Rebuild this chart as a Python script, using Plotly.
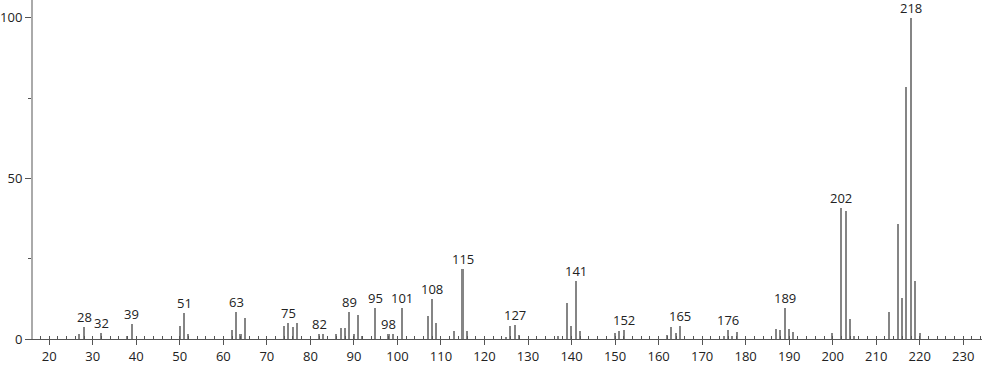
import plotly.graph_objects as go

mz = [27, 28, 32, 38, 39, 50, 51, 52, 62, 63, 64, 65, 74, 75, 76, 77, 82, 83,
      86, 87, 88, 89, 90, 91, 92, 95, 98, 99, 101, 107, 108, 109, 113, 115, 116,
      125, 126, 127, 128, 137, 139, 140, 141, 142, 150, 151, 152,
      162, 163, 164, 165, 175, 176, 177, 178, 187, 188, 189, 190, 191,
      200, 202, 203, 204, 205, 213, 215, 216, 217, 218, 219, 220]
intensity = [1.7, 3.6, 1.8, 0.9, 4.6, 3.9, 8.2, 1.6, 2.8, 8.5, 1.5, 6.6, 3.9, 5.0, 3.7, 5.0, 1.7, 1.6,
             1.7, 3.4, 3.5, 8.4, 1.5, 7.5, 0.9, 9.6, 1.6, 1.6, 9.6, 7.2, 12.4, 5.0, 2.6, 21.9, 2.6,
             0.6, 4.1, 4.5, 1.3, 0.9, 11.1, 4.1, 18.2, 2.6, 1.9, 2.5, 2.8,
             1.3, 3.7, 1.9, 3.9, 0.8, 2.7, 1.0, 2.1, 3.1, 2.7, 9.6, 3.1, 2.1,
             1.8, 40.8, 39.8, 6.3, 1.0, 8.3, 35.7, 12.8, 78.4, 100.0, 18.2, 1.8]
labeled = [28, 32, 39, 51, 63, 75, 82, 89, 95, 98, 101, 108, 115, 127, 141, 152, 165, 176, 189, 202, 218]
x_ticks = list(range(20, 231, 10))
y_ticks = [0, 50, 100]

FONT = "'Open Sans', 'DejaVu Sans', sans-serif"

fig = go.Figure()
fig.add_trace(go.Bar(x=mz, y=intensity, width=0.35, marker=dict(color="#858585", line=dict(width=0)),
                     hoverinfo="x+y"))

lookup = dict(zip(mz, intensity))
for m in labeled:
    fig.add_annotation(x=m, y=lookup[m], text=str(m), showarrow=False, yanchor="bottom",
                       yshift=0, borderpad=0, font=dict(family=FONT, size=13, color="#222"))

fig.update_layout(
    width=982, height=365, margin=dict(l=29, r=0, t=0, b=21),
    paper_bgcolor="white", plot_bgcolor="white", showlegend=False, bargap=0,
    xaxis=dict(range=[16.27, 234.3], tickvals=x_ticks, ticktext=[str(v) for v in x_ticks],
               showgrid=False, zeroline=False, showline=True, linecolor="#555", linewidth=1,
               ticks="outside", ticklen=5, tickcolor="#555", tickwidth=1,
               minor=dict(dtick=2, tick0=0, ticks="inside", ticklen=3, tickcolor="#555", tickwidth=1),
               tickfont=dict(family=FONT, size=13, color="#222")),
    yaxis=dict(range=[0, 105.5], tickvals=y_ticks, ticktext=[str(v) for v in y_ticks],
               showgrid=False, zeroline=False, showline=True, linecolor="#aaa", linewidth=2,
               ticks="outside", ticklen=6, tickcolor="#555", tickwidth=1,
               minor=dict(tickvals=[25, 75], ticks="outside", ticklen=3, tickcolor="#555", tickwidth=1),
               tickfont=dict(family=FONT, size=13, color="#222")),
)
fig.write_html("out.html")
